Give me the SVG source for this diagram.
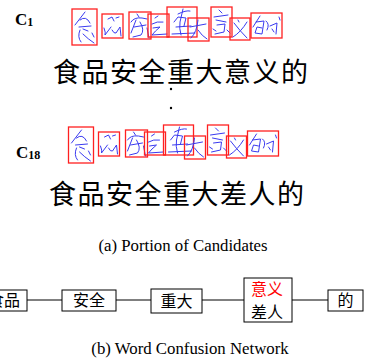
<svg xmlns="http://www.w3.org/2000/svg" width="366" height="360" viewBox="0 0 366 360">
<style>
.lbl{font-family:"Liberation Serif",serif;font-weight:bold;font-size:17px;fill:#000}
.sub{font-size:12px}
.big{font-family:"Noto Sans CJK SC",sans-serif;font-size:27px;fill:#000}
.cap{font-family:"Liberation Serif",serif;font-size:16.8px;fill:#000}
.box{fill:none;stroke:#ff2020;stroke-width:1.3}
.ink{fill:none;stroke:#3a3af0;stroke-width:1;stroke-linecap:round;stroke-linejoin:round}
.node{fill:#fff;stroke:#000;stroke-width:1}
.wc{font-family:"Noto Sans CJK SC",sans-serif;font-size:16px;fill:#000;text-anchor:middle}
.edge{stroke:#000;stroke-width:1;fill:none}
</style>
<defs>
<g id="hw">
<rect class="box" x="72" y="9" width="25" height="36"/>
<path class="ink" d="M85,12 L75,25 M80,20 Q86,15 90,23 M79,27 L91,26 M83,29 L88,31 M80,30 Q77,37 81,42 M83,34 Q88,39 94,43 M92,33 L94,37"/>
<rect class="box" x="102" y="14" width="21" height="24"/>
<path class="ink" d="M108,19 L112,17 L114,21 M116,18 L119,17 M104,28 Q106,33 105,35 L111,27 M112,30 Q114,34 116,33 L120,27 L121,36"/>
<rect class="box" x="129" y="12" width="22" height="27"/>
<path class="ink" d="M137,14 L139,17 M131,22 Q134,17 142,18 L147,19 M136,20 L131,33 M134,27 L146,25 M140,22 Q145,30 141,35 L133,37 M147,28 L149,38"/>
<rect class="box" x="148" y="14" width="21" height="23"/>
<path class="ink" d="M155,18 L158,16 M152,24 Q157,21 163,22 M153,28 L160,27 Q155,31 152,35 L167,34"/>
<rect class="box" x="167" y="7" width="30" height="30"/>
<path class="ink" d="M178,14 Q186,10 190,11 M183,9 L180,22 Q179,28 181,35 M174,22 L178,17 L186,18 L184,26 M176,27 L191,26 M172,34 L195,33"/>
<rect class="box" x="188" y="18" width="21" height="23"/>
<path class="ink" d="M190,27 L206,24 M198,20 Q197,32 191,38 M198,30 Q202,36 207,39"/>
<rect class="box" x="211" y="7" width="21" height="30"/>
<path class="ink" d="M219,10 L222,13 M214,17 L228,15 M216,20 L226,22 M217,25 L225,24 L224,32 L215,34 M213,29 L216,31 M227,30 L230,33"/>
<rect class="box" x="230" y="18" width="20" height="22"/>
<path class="ink" d="M234,23 Q240,31 247,38 M247,22 Q241,32 233,37 M238,20 L239,22"/>
<rect class="box" x="251" y="13" width="31" height="25"/>
<path class="ink" d="M260,16 L253,27 M256,22 L264,21 L262,34 L255,33 L257,27 L262,28 M266,21 Q270,24 267,30 M270,26 L277,23 L276,34 M272,29 L274,32 M279,17 L280,20"/>
</g>
</defs>
<g id="candidate-1">
<text class="lbl" x="15" y="25">C<tspan class="sub" dy="1">1</tspan></text>
<use href="#hw"/>
<text class="big" x="53" y="82" textLength="255">食品安全重大意义的</text>
</g>
<g id="ellipsis">
<circle cx="171" cy="89" r="1.2" fill="#000"/>
<circle cx="171" cy="108" r="1.2" fill="#000"/>
</g>
<g id="candidate-18">
<text class="lbl" x="16" y="158">C<tspan class="sub" dy="1">18</tspan></text>
<use href="#hw" transform="translate(-3.5,118)"/>
<text class="big" x="49" y="204" textLength="255">食品安全重大差人的</text>
</g>
<text id="caption-a" class="cap" x="183" y="251" text-anchor="middle">(a) Portion of Candidates</text>
<g id="connectors">
<line class="edge" x1="27" y1="300" x2="62" y2="300"/>
<line class="edge" x1="116" y1="300" x2="151" y2="300"/>
<line class="edge" x1="202" y1="300" x2="244" y2="300"/>
<line class="edge" x1="292" y1="300" x2="328" y2="300"/>
</g>
<g id="n-shipin">
<rect class="node" x="-25" y="290" width="52" height="21"/>
<text class="wc" x="4" y="306">食品</text>
</g>
<g id="n-anquan">
<rect class="node" x="62" y="290" width="54" height="21"/>
<text class="wc" x="89" y="306">安全</text>
</g>
<g id="n-zhongda">
<rect class="node" x="151" y="289" width="51" height="24"/>
<text class="wc" x="176.5" y="307">重大</text>
</g>
<g id="n-yiyi">
<rect class="node" x="244" y="278" width="48" height="44"/>
<text class="wc" x="267" y="295" style="fill:#ff0000">意义</text>
<text class="wc" x="267" y="318">差人</text>
</g>
<g id="n-de">
<rect class="node" x="328" y="290" width="35" height="21"/>
<text class="wc" x="345.5" y="306">的</text>
</g>
<text id="caption-b" class="cap" x="190" y="354" text-anchor="middle">(b) Word Confusion Network</text>
</svg>
